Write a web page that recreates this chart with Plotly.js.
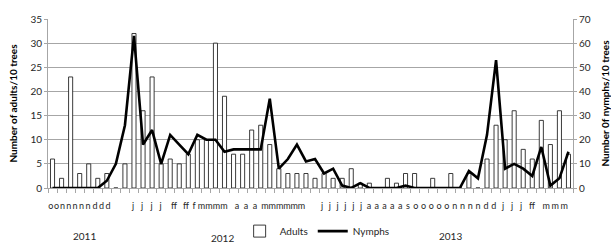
<!DOCTYPE html>
<html>
<head>
<meta charset="utf-8">
<script src="https://cdn.plot.ly/plotly-3.0.1.min.js"></script>
<style>html,body{margin:0;padding:0;background:#fff;}#chart{width:611px;height:244px;}</style>
</head>
<body>
<div id="chart"></div>
<script>
// Adults per 10 trees (left axis), one value per sampling date
const adults = [6,2,23,3,5,2,3,0,5,32,16,23,5,6,5,7,10,10,30,19,7,7,12,13,9,4,3,3,3,2,3,2,2,4,1,1,0,2,1,3,3,0,2,0,3,0,3,0,6,13,10,16,8,6,14,9,16,7];
// Nymphs per 10 trees (right axis)
const nymphs = [0,0,0,0,0,0,3,10,26,63,18,24,10,22,18,14,22,20,20,15,16,16,16,16,37,8,12,18,11,12,6,8,1,0,2,0,0,0,0,1,0,0,0,0,0,0,7,4,22,53,8,10,8,5,17,1,4,15];
// Month-initial labels under the axis and where they sit (in sample-index units)
const monthLabels = ['o','o','n','n','n','n','n','d','d','d','j','j','j','j','ff','ff','f','m','m','m','m','a','a','a','m','m','m','m','m','m',
  'j','j','j','j','j','j','a','a','a','a','a','s','o','o','o','o','o','n','n','n','n','d','d','j','j','j','ff','m','m','m'];
const monthLabelPos = [-0.20,0.44,1.10,1.79,2.48,3.20,3.92,4.69,5.41,6.13,8.89,9.89,10.94,11.93,13.42,14.75,15.63,16.46,17.29,18.12,18.95,20.38,21.38,22.37,23.48,24.28,25.09,25.90,26.70,27.51,
  29.78,30.64,31.50,32.36,33.22,34.09,34.95,35.81,36.67,37.53,38.40,39.26,40.12,40.98,41.84,42.70,43.57,44.43,45.29,46.15,47.01,47.88,48.74,49.78,50.77,51.77,52.98,54.53,55.52,56.52];
// Year labels
const years = ['2011','2012','2013'];
const yearPos = [3.48,18.73,43.92];

const n = adults.length;
const idx = adults.map((_, i) => i);
const bounds = Array.from({length: n + 1}, (_, i) => i - 0.5);
const FONT = 'Lato, "Open Sans", "Liberation Sans", sans-serif';
const GRID = '#a6a6a6';

const traces = [
  {type:'bar', name:'Adults', x: idx, y: adults, xaxis:'x', yaxis:'y', width:0.45,
   marker:{color:'#ffffff', line:{color:'#262626', width:0.9}}},
  {type:'scatter', mode:'lines', name:'Nymphs', x: idx, y: nymphs, xaxis:'x2', yaxis:'y2',
   line:{color:'#000000', width:2.6}}
];

const layout = {
  width:611, height:244,
  margin:{l:48, r:38, t:19, b:56, autoexpand:false},
  paper_bgcolor:'#fff', plot_bgcolor:'#fff',
  font:{family:FONT, size:10, color:'#262626'},
  showlegend:true,
  legend:{orientation:'h', x:0.365, xanchor:'left', y:-0.255, yanchor:'middle',
          font:{family:FONT, size:10, color:'#262626'}, itemwidth:30, tracegroupgap:0},
  bargap:0,
  xaxis:{range:[-0.5, n - 0.5], tickmode:'array', tickvals: bounds, showticklabels:false,
         ticks:'outside', ticklen:4, tickcolor:GRID, showline:true, linecolor:GRID, linewidth:1,
         showgrid:false, zeroline:false, fixedrange:true},
  xaxis2:{range:[-0.5, n - 0.5], overlaying:'x', anchor:'y2', side:'bottom', tickmode:'array',
          tickvals: monthLabelPos, ticktext: monthLabels, tickangle:0, ticks:'outside', ticklen:9,
          tickcolor:'rgba(0,0,0,0)', showline:false, showgrid:false, zeroline:false,
          tickfont:{family:FONT, size:9, color:'#262626'}},
  yaxis:{range:[0,35], tickmode:'linear', tick0:0, dtick:5, showgrid:true, gridcolor:GRID, gridwidth:1,
         showline:true, linecolor:GRID, ticks:'outside', ticklen:3, tickcolor:GRID, zeroline:false,
         tickfont:{family:FONT, size:10, color:'#262626'},
         title:{text:'Number of adults/10 trees', font:{family:FONT, size:10, color:'#000'}, standoff:10}},
  yaxis2:{range:[0,70], tickmode:'linear', tick0:0, dtick:10, overlaying:'y', side:'right', anchor:'x',
          showgrid:false, showline:true, linecolor:GRID, ticks:'outside', ticklen:3, tickcolor:GRID, zeroline:false,
          tickfont:{family:FONT, size:10, color:'#262626'},
          title:{text:'Number 0f nymphs/10 trees', font:{family:FONT, size:10, color:'#000'}, standoff:12}},
  annotations: years.map((t, i) => ({text:t, x: yearPos[i], xref:'x', y: i === 1 ? -0.295 : -0.285, yref:'paper',
     yanchor:'middle', showarrow:false, font:{family:FONT, size:10, color:'#262626'}}))
};

Plotly.newPlot('chart', traces, layout, {displayModeBar:false, staticPlot:true}).then(() => {
  // bold axis titles like the reference
  document.querySelectorAll('.g-ytitle text, .g-y2title text').forEach(t => t.style.fontWeight = 'bold');
});
</script>
</body>
</html>
